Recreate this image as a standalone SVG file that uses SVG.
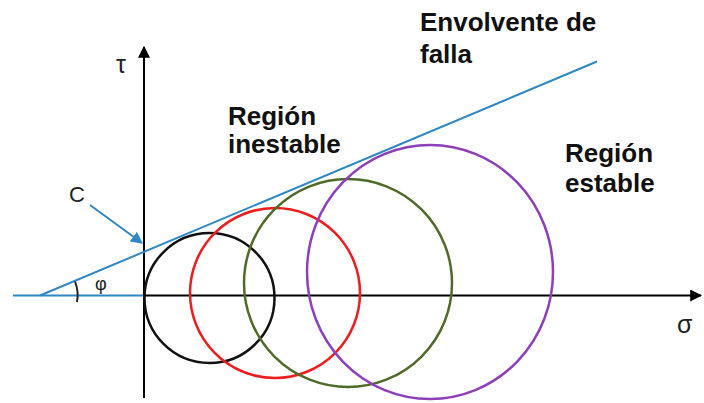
<svg xmlns="http://www.w3.org/2000/svg" width="704" height="403" viewBox="0 0 704 403">
<defs>
<style>
.lbl{font-family:"Liberation Sans",Arial,sans-serif;font-weight:bold;font-size:26px;fill:#111}
.sym{font-family:"Liberation Sans",Arial,sans-serif;font-size:22px;fill:#222}
.ax{stroke:#000;stroke-width:2;fill:none}
.bl{stroke:#2f88c6;stroke-width:2;fill:none}
.c{fill:none;stroke-width:2.5}
</style>
<marker id="ah" viewBox="0 0 10 10" refX="9" refY="5" markerWidth="6" markerHeight="6" orient="auto" markerUnits="strokeWidth">
<path d="M0,0 L10,5 L0,10 z" fill="#000"/>
</marker>
<marker id="ahb" viewBox="0 0 10 10" refX="9" refY="5" markerWidth="6" markerHeight="6" orient="auto" markerUnits="strokeWidth">
<path d="M0,0 L10,5 L0,10 z" fill="#2f88c6"/>
</marker>
</defs>
<g id="axes">
<line class="bl" x1="13" y1="295.5" x2="144" y2="295.5"/>
<line class="ax" x1="144" y1="295.5" x2="701" y2="295.5" marker-end="url(#ah)"/>
<line class="ax" x1="144" y1="398" x2="144" y2="47" marker-end="url(#ah)"/>
<text id="tau" class="sym" x="116" y="73" style="font-size:25px">τ</text>
<text id="sigma" class="sym" x="677" y="333" style="font-size:25px">σ</text>
</g>
<g id="circles">
<circle id="c1" class="c" stroke="#111" cx="209.5" cy="298" r="65"/>
<circle id="c2" class="c" stroke="#ee1c1c" cx="275" cy="293" r="85"/>
<circle id="c3" class="c" stroke="#4f6b2a" cx="348" cy="283" r="104"/>
<ellipse id="c4" class="c" stroke="#8e3fba" cx="430" cy="272" rx="123" ry="127"/>
</g>
<g id="connectors">
<line id="envelope" class="bl" x1="40" y1="295.5" x2="597" y2="61.5"/>
<line id="c-arrow" class="bl" x1="90" y1="205" x2="142" y2="243" stroke-width="2.5" marker-end="url(#ahb)"/>
<path id="phi-arc" d="M75,281.5 A37,37 0 0 1 77,302" fill="none" stroke="#222" stroke-width="2"/>
</g>
<g id="labels">
<text class="sym" x="69" y="202">C</text>
<text class="sym" x="95" y="290" style="font-size:18px">φ</text>
<text class="lbl" x="420" y="31">Envolvente de</text>
<text class="lbl" x="420" y="63">falla</text>
<text class="lbl" x="228" y="125">Región</text>
<text class="lbl" x="228" y="153">inestable</text>
<text class="lbl" x="565" y="162">Región</text>
<text class="lbl" x="565" y="192">estable</text>
</g>
</svg>
